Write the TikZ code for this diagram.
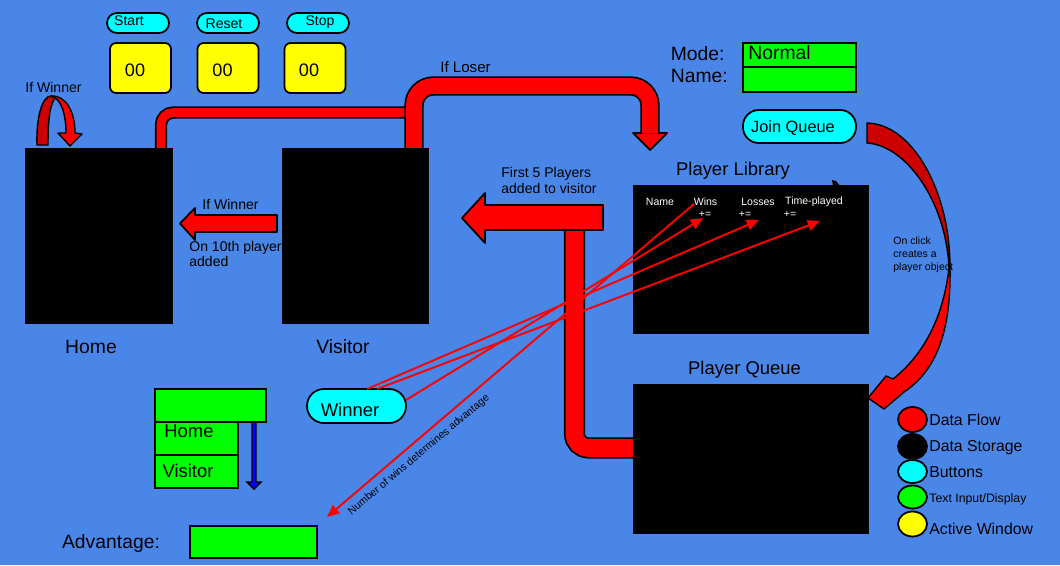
\documentclass[tikz,border=0pt]{standalone}
\usepackage{fontspec}
\setmainfont{Liberation Sans}
\usepackage{xcolor}
\definecolor{bgblue}{RGB}{74,134,232}
\definecolor{darkred}{RGB}{204,0,0}
\definecolor{btncyan}{RGB}{0,255,255}
\definecolor{fieldgreen}{RGB}{0,255,0}
\definecolor{activeyellow}{RGB}{255,255,0}
\definecolor{flowred}{RGB}{255,0,0}
\usepackage{tikz}
\usetikzlibrary{arrows.meta, shapes.geometric}

\tikzset{
    store/.style={fill=black, draw=black, inner sep=0pt},
    timerbox/.style={fill=activeyellow, draw=black, line width=1pt, rounded corners=3.5pt,
        inner sep=0pt, minimum width=1.22cm, minimum height=1cm},
    btn/.style={fill=btncyan, draw=black, line width=1pt, inner sep=0pt},
    field/.style={fill=fieldgreen, draw=black, line width=1pt, inner sep=0pt},
    flow/.style={fill=flowred, draw=black, line width=1pt, line join=round},
    pipe/.style={draw=black, line width=1pt, double=flowred, line cap=butt},
    hit/.style={flowred, line width=1.1pt},
    hitarrow/.style={hit, -{Triangle[length=7pt, width=6pt]}},
    key/.style={ellipse, draw=black, line width=1pt, inner sep=0pt,
        minimum width=0.58cm, minimum height=0.5cm},
    txtL/.style={inner sep=0pt, font=\fontsize{11}{13}\selectfont},
    txtM/.style={inner sep=0pt, font=\fontsize{9}{11}\selectfont},
    txtS/.style={inner sep=0pt, font=\fontsize{8}{9}\selectfont},
    txtXS/.style={inner sep=0pt, font=\fontsize{6}{7.4}\selectfont},
}

\begin{document}
\begin{tikzpicture}[x=0.02cm, y=-0.02cm]
    % Background
    \fill[bgblue] (0,0) rectangle (1060,565);
    \useasboundingbox (0,0) rectangle (1060,565);

    % Pipes between the courts
    \draw[pipe, double distance=5pt, rounded corners=7pt]
        (161,150) -- (161,112.5) -- (414,112.5);
    \draw[flow] (633,133) -- (667,133) -- (650,150) -- cycle;
    \draw[pipe, double distance=9pt, rounded corners=11pt]
        (414,150) -- (414,86) -- (650,86) -- (650,133.5);
    \node[txtS, font=\fontsize{8.6}{10}\selectfont] (loser) at (465.5,67) {If Loser};

    % Pipe from the queue up to the visitor arrow
    \draw[pipe, double distance=10pt, rounded corners=8pt]
        (574.5,228) -- (574.5,448) -- (635,448);
    \draw[flow] (603,205) -- (485,205) -- (485,193) -- (462,218)
        -- (485,243) -- (485,230) -- (603,230) -- cycle;
    \node[txtS, align=left, anchor=north west] (firstfive) at (501,167)
        {First 5 Players\\added to visitor};

    % Timer buttons and displays
    \node[btn, rounded corners=5.7pt, minimum width=1.24cm, minimum height=0.4cm] (startbtn) at (138,23) {};
    \node[btn, rounded corners=5.7pt, minimum width=1.24cm, minimum height=0.4cm] (resetbtn) at (228,23) {};
    \node[btn, rounded corners=5.7pt, minimum width=1.24cm, minimum height=0.4cm] (stopbtn) at (318,23) {};
    \node[txtS] (starttxt) at (129,21) {Start};
    \node[txtS] (resettxt) at (224,23.3) {Reset};
    \node[txtS] (stoptxt) at (320,22.5) {Stop};

    \node[timerbox] (timerA) at (140.5,68) {};
    \node[timerbox] (timerB) at (228,68) {};
    \node[timerbox] (timerC) at (315,68) {};
    \node[txtL, font=\fontsize{10.3}{12}\selectfont] (digA) at (135,70) {00};
    \node[txtL, font=\fontsize{10.3}{12}\selectfont] (digB) at (222.5,70) {00};
    \node[txtL, font=\fontsize{10.3}{12}\selectfont] (digC) at (309,70) {00};

    % Courts
    \node[store, minimum width=2.94cm, minimum height=3.5cm] (home) at (98.5,235.5) {};
    \node[store, minimum width=2.92cm, minimum height=3.5cm] (visitor) at (355,235.5) {};
    \node[txtL] (homelbl) at (91,347) {Home};
    \node[txtL] (visitorlbl) at (343,347) {Visitor};

    % If Winner: stay on home
    \fill[darkred, draw=black, line width=0.8pt]
        (37,145) .. controls (36,115) and (43,96) .. (51,96)
        -- (55,98) .. controls (49,106) and (48,125) .. (48,145) -- cycle;
    \fill[flowred, draw=black, line width=0.8pt, line join=round]
        (51,96) .. controls (66,95) and (75,112) .. (75,133)
        -- (82,134) -- (70,146) -- (58,133) -- (66,133)
        .. controls (66,116) and (62,102) .. (55,98) -- cycle;
    \node[txtS] (winnerloop) at (53.5,87) {If Winner};

    % Visitor to home
    \draw[flow] (277,215) -- (195,215) -- (195,208) -- (180,223.5)
        -- (195,240) -- (195,232) -- (277,232) -- cycle;
    \node[txtS] (winnermove) at (230.5,204) {If Winner};
    \node[txtS, align=left, anchor=north west, font=\fontsize{8}{8.6}\selectfont] (tenth) at (189,241)
        {On 10th player\\added};

    % Mode and name
    \node[txtL, anchor=west] (modelbl) at (670.5,53.5) {Mode:};
    \node[txtL, anchor=west] (namelbl) at (670.5,76) {Name:};
    \node[field, minimum width=2.26cm, minimum height=0.48cm] (modebox) at (799.5,55) {};
    \node[field, minimum width=2.26cm, minimum height=0.5cm] (namebox) at (799.5,79.5) {};
    \node[txtL, anchor=west] (modetxt) at (748,52.5) {Normal};

    % Join queue
    \node[btn, rounded corners=9pt, minimum width=2.26cm, minimum height=0.66cm] (join) at (799.5,126.5) {};
    \node[txtM, font=\fontsize{9.3}{11}\selectfont] (jointxt) at (793,128) {Join Queue};
    \fill[darkred, draw=black, line width=0.8pt]
        (867,123) .. controls (912,124) and (950,190) .. (950,268)
        -- (949,268) .. controls (946,200) and (905,145) .. (867,143) -- cycle;
    \fill[flowred, draw=black, line width=0.8pt, line join=round]
        (950,268) .. controls (951,330) and (937,370) .. (904,392)
        -- (884,409) -- (868,398) -- (886,376) -- (893,379)
        .. controls (922,356) and (943,320) .. (949,268) -- cycle;
    \node[txtXS, align=left, anchor=north west] (onclick) at (893,237)
        {On click\\creates a\\player object};

    % Player library
    \node[txtL, font=\fontsize{10.5}{12}\selectfont] (libtitle) at (733,171) {Player Library};
    \node[store, minimum width=4.7cm, minimum height=2.96cm] (library) at (750.5,259) {};
    \fill[black] (832,180) -- (836,181) -- (840,186) -- (833,186) -- cycle;
    \node[txtXS, white] (colname) at (660,202) {Name};
    \node[txtXS, white] (colwins) at (705.5,202) {Wins};
    \node[txtXS, white] (collosses) at (758,202) {Losses};
    \node[txtXS, white] (coltime) at (814,202) {Time-played};
    \node[txtXS, white] (incwins) at (705,214) {+=};
    \node[txtXS, white] (inclosses) at (745,214) {+=};
    \node[txtXS, white] (inctime) at (790,214) {+=};

    % Player queue
    \node[txtL, font=\fontsize{10.5}{12}\selectfont] (queuetitle) at (744.5,370) {Player Queue};
    \node[store, minimum width=4.7cm, minimum height=2.98cm] (queue) at (750.5,458.5) {};

    % Winner button
    \node[btn, rounded corners=9.6pt, minimum width=1.98cm, minimum height=0.68cm] (winner) at (356.5,406) {};
    \node[txtL, font=\fontsize{10.5}{12}\selectfont] (winnertxt) at (350,410) {Winner};

    % Home / Visitor advantage selector
    \node[field, minimum width=2.22cm, minimum height=0.66cm] (advhead) at (210.5,405.5) {};
    \node[field, minimum width=1.66cm, minimum height=0.66cm] (advhome) at (196.5,438.5) {};
    \node[field, minimum width=1.66cm, minimum height=0.66cm] (advvisitor) at (196.5,471.5) {};
    \node[txtL, font=\fontsize{10.5}{12}\selectfont] (advhometxt) at (189,431) {Home};
    \node[txtL, font=\fontsize{10.5}{12}\selectfont] (advvisitortxt) at (188,470.5) {Visitor};
    \draw[fill=blue, draw=black, line width=0.8pt]
        (252,422) -- (252,482) -- (247,482) -- (254,489) -- (261,482) -- (256,482) -- (256,422) -- cycle;

    \node[txtL] (advlbl) at (111,543) {Advantage:};
    \node[field, minimum width=2.54cm, minimum height=0.64cm] (advbox) at (253.5,542) {};

    % Winner updates the library
    \coordinate (wA) at (367,389);
    \coordinate (wB) at (377,389);
    \coordinate (wC) at (406,400);
    \coordinate (winsto) at (703,218);
    \coordinate (lossesto) at (759,220);
    \coordinate (timeto) at (820,221);
    \coordinate (winsfrom) at (694,204);
    \coordinate (advto) at (327,517);
    \draw[hitarrow] (wC) -- (winsto);
    \draw[hitarrow] (wA) -- (lossesto);
    \draw[hitarrow] (wB) -- (timeto);
    \draw[hitarrow] (winsfrom) -- (advto);
    \node[txtXS, rotate=40] (advnote) at (419,455) {Number of wins determines advantage};

    % Legend
    \node[key, fill=flowred] (keyflow) at (912.5,419.5) {};
    \node[key, fill=black] (keystore) at (912.5,446.5) {};
    \node[key, fill=btncyan, minimum height=0.46cm] (keybtn) at (912.5,471.5) {};
    \node[key, fill=fieldgreen, minimum height=0.46cm] (keyfield) at (912.5,497) {};
    \node[key, fill=activeyellow] (keyactive) at (912.5,524) {};
    \node[txtM, anchor=west] (keyflowtxt) at (929,420) {Data Flow};
    \node[txtM, anchor=west] (keystoretxt) at (929,448) {Data Storage};
    \node[txtM, anchor=west] (keybtntxt) at (929,472) {Buttons};
    \node[txtS, anchor=west, font=\fontsize{7}{8}\selectfont] (keyfieldtxt) at (929,499) {Text Input/Display};
    \node[txtM, anchor=west] (keyactivetxt) at (929,529) {Active Window};
\end{tikzpicture}
\end{document}
